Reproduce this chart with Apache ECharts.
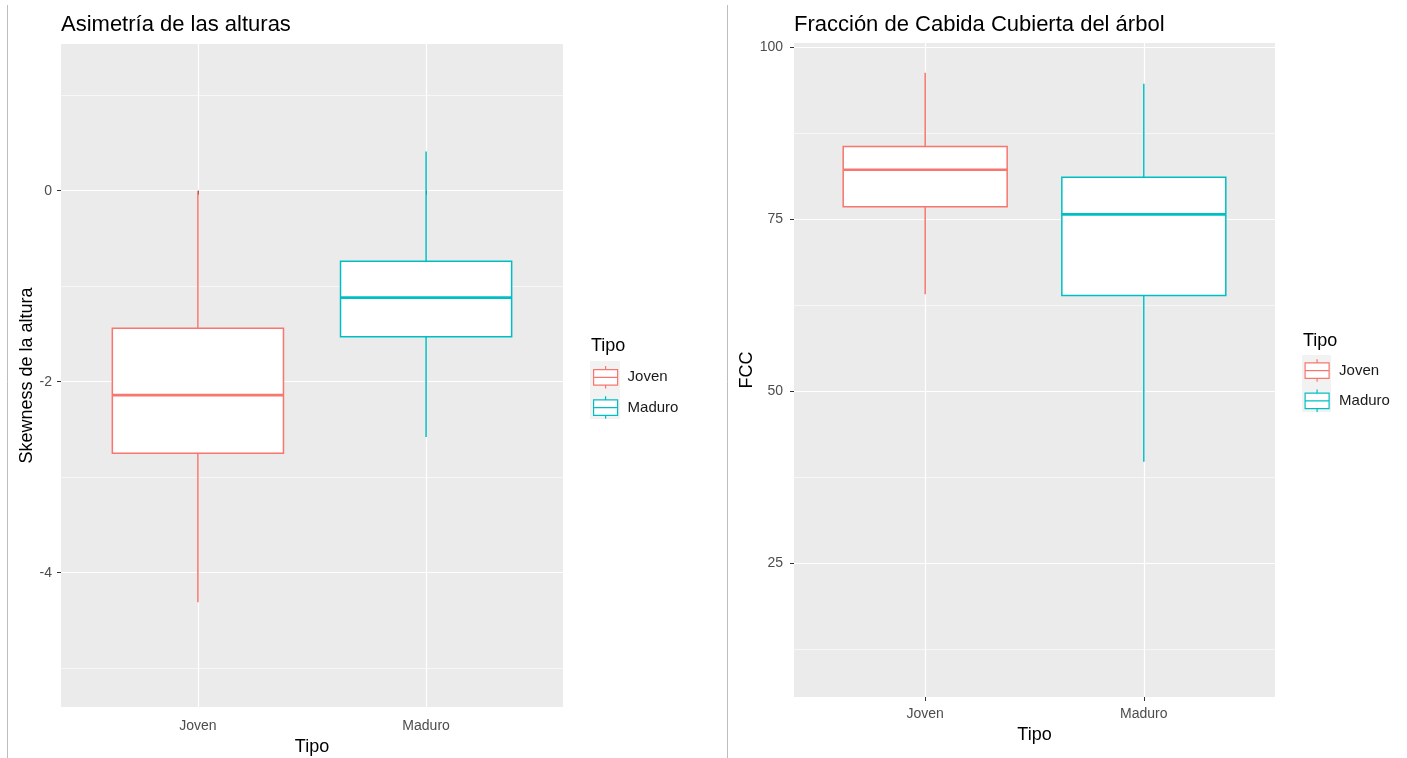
<!DOCTYPE html>
<html>
<head>
<meta charset="utf-8">
<script src="https://cdn.jsdelivr.net/npm/echarts@6/dist/echarts.min.js"></script>
<style>
  html, body { margin: 0; padding: 0; background: #fff; }
  #chart { width: 1407px; height: 758px; }
</style>
</head>
<body>
<div id="chart"></div>
<script>
// Categories on the x axis (placed at 1 and 2 of a continuous scale)
const categories = ['Joven', 'Maduro'];

// Box statistics: [whisker low, Q1, median, Q3, whisker high]
const skewJoven  = [-4.31, -2.75, -2.14, -1.44, 0.00];
const skewMaduro = [-2.58, -1.53, -1.12, -0.74, 0.41];
const fccJoven   = [64.1, 76.8, 82.2, 85.6, 96.3];
const fccMaduro  = [39.7, 63.9, 75.7, 81.1, 94.7];

// Axis ticks and grid lines
const skewTicks = [-4, -2, 0];
const skewMinor = [-5, -3, -1, 1];
const fccTicks  = [25, 50, 75, 100];
const fccMinor  = [12.5, 37.5, 62.5, 87.5];
const catTicks  = [1, 2];

const palette = { Joven: '#F8766D', Maduro: '#00BFC4' };
const BOX_WIDTH = 0.75;
const FONT = '"Liberation Sans", Arial, sans-serif';

function renderBox(params, api) {
  const x = api.value(0);
  const lo = api.coord([x, api.value(1)]);
  const q1 = api.coord([x, api.value(2)]);
  const md = api.coord([x, api.value(3)]);
  const q3 = api.coord([x, api.value(4)]);
  const hi = api.coord([x, api.value(5)]);
  const half = api.size([BOX_WIDTH, 0])[0] / 2;
  const color = api.visual('color');
  const lineStyle = { stroke: color, lineWidth: 1.5, fill: null };
  return {
    type: 'group',
    children: [
      { type: 'line', shape: { x1: hi[0], y1: hi[1], x2: q3[0], y2: q3[1] }, style: lineStyle },
      { type: 'line', shape: { x1: q1[0], y1: q1[1], x2: lo[0], y2: lo[1] }, style: lineStyle },
      { type: 'rect', shape: { x: q3[0] - half, y: q3[1], width: 2 * half, height: q1[1] - q3[1] },
        style: { stroke: color, lineWidth: 1.5, fill: '#fff' } },
      { type: 'line', shape: { x1: md[0] - half, y1: md[1], x2: md[0] + half, y2: md[1] },
        style: { stroke: color, lineWidth: 2.6 } }
    ]
  };
}

function boxSeries(name, stats, catIndex, gridIdx) {
  return {
    type: 'custom',
    name: name,
    xAxisIndex: gridIdx,
    yAxisIndex: gridIdx * 2,
    itemStyle: { color: palette[name] },
    renderItem: renderBox,
    encode: { x: 0, y: [1, 2, 3, 4, 5] },
    data: [[catIndex + 1].concat(stats)],
    z: 5
  };
}

function catAxis(gridIdx, nameGap, labelMargin) {
  return {
    type: 'value', gridIndex: gridIdx, min: 0.4, max: 2.6,
    name: 'Tipo', nameLocation: 'middle', nameGap: nameGap,
    nameTextStyle: { color: '#000', fontSize: 18, fontFamily: FONT },
    axisLine: { show: false },
    axisTick: { show: true, customValues: catTicks, length: 4, lineStyle: { color: '#333', width: 1 } },
    axisLabel: { customValues: catTicks, margin: labelMargin, color: '#4D4D4D', fontSize: 14, fontFamily: FONT,
      formatter: v => categories[Math.round(v) - 1] },
    splitLine: { show: true, lineStyle: { color: '#fff', width: 1.2 } }
  };
}

function valAxis(gridIdx, min, max, ticks, name, nameGap, labelMargin) {
  return {
    type: 'value', gridIndex: gridIdx, min: min, max: max,
    name: name, nameLocation: 'middle', nameGap: nameGap, nameRotate: 90,
    nameTextStyle: { color: '#000', fontSize: 18, fontFamily: FONT },
    axisLine: { show: false },
    axisTick: { show: true, customValues: ticks, length: 4, lineStyle: { color: '#333', width: 1 } },
    axisLabel: { customValues: ticks, margin: labelMargin, color: '#4D4D4D', fontSize: 14, fontFamily: FONT },
    splitLine: { show: true, lineStyle: { color: '#fff', width: 1.2 } }
  };
}

function minorAxis(gridIdx, min, max, ticks) {
  return {
    type: 'value', gridIndex: gridIdx, min: min, max: max, position: 'left',
    axisLine: { show: false },
    axisTick: { show: false, customValues: ticks },
    axisLabel: { show: false },
    splitLine: { show: true, lineStyle: { color: '#fff', width: 0.6 } }
  };
}

const keyIcon = 'path://M0,3.5 H24 V19 H0 Z M0,11.25 H24 M12,0 V3.5 M12,19 V22.5';

function legendFor(left, top) {
  return {
    orient: 'vertical', left: left, top: top, padding: 0,
    itemWidth: 24, itemHeight: 22.5, itemGap: 6.5,
    icon: keyIcon,
    textStyle: { color: '#1A1A1A', fontSize: 15, fontFamily: FONT, padding: [0, 0, 0, 5] },
    data: categories.map(c => ({
      name: c,
      itemStyle: { color: '#fff', borderColor: palette[c], borderWidth: 1.2 }
    }))
  };
}

const titleStyle = (size) => ({ color: '#000', fontSize: size, fontWeight: 'normal', fontFamily: FONT });

const chart = echarts.init(document.getElementById('chart'), null, { renderer: 'canvas' });

chart.setOption({
  animation: false,
  backgroundColor: '#fff',
  title: [
    { text: 'Asimetría de las alturas', left: 61, top: 14, padding: 0, textStyle: titleStyle(22) },
    { text: 'Fracción de Cabida Cubierta del árbol', left: 794, top: 14, padding: 0, textStyle: titleStyle(22) },
    { text: 'Tipo', left: 591, top: 337, padding: 0, textStyle: titleStyle(18) },
    { text: 'Tipo', left: 1303, top: 332, padding: 0, textStyle: titleStyle(18) }
  ],
  graphic: [
    { type: 'line', shape: { x1: 7.5, y1: 5, x2: 7.5, y2: 758 }, style: { stroke: '#BDBDBD', lineWidth: 1 }, silent: true },
    { type: 'line', shape: { x1: 727.5, y1: 5, x2: 727.5, y2: 758 }, style: { stroke: '#BDBDBD', lineWidth: 1 }, silent: true },
    { type: 'rect', shape: { x: 590, y: 361, width: 30, height: 58 }, style: { fill: '#F2F2F2' }, z: -1, silent: true },
    { type: 'rect', shape: { x: 1302, y: 355, width: 29, height: 57 }, style: { fill: '#F2F2F2' }, z: -1, silent: true }
  ],
  legend: [ legendFor(593, 365.5), legendFor(1304.5, 358.75) ],
  grid: [
    { left: 61, top: 44, width: 502, height: 663, show: true, backgroundColor: '#EBEBEB', borderWidth: 0,
      outerBoundsMode: 'none', containLabel: false },
    { left: 794, top: 43, width: 481, height: 654, show: true, backgroundColor: '#EBEBEB', borderWidth: 0,
      outerBoundsMode: 'none', containLabel: false }
  ],
  xAxis: [ catAxis(0, 31, 12), catAxis(1, 28, 10) ],
  yAxis: [
    valAxis(0, -5.406, 1.536, skewTicks, 'Skewness de la altura', 24, 9),
    minorAxis(0, -5.406, 1.536, skewMinor),
    valAxis(1, 5.49, 100.64, fccTicks, 'FCC', 38, 11),
    minorAxis(1, 5.49, 100.64, fccMinor)
  ],
  series: [
    boxSeries('Joven', skewJoven, 0, 0),
    boxSeries('Maduro', skewMaduro, 1, 0),
    boxSeries('Joven', fccJoven, 0, 1),
    boxSeries('Maduro', fccMaduro, 1, 1)
  ]
});
</script>
</body>
</html>
